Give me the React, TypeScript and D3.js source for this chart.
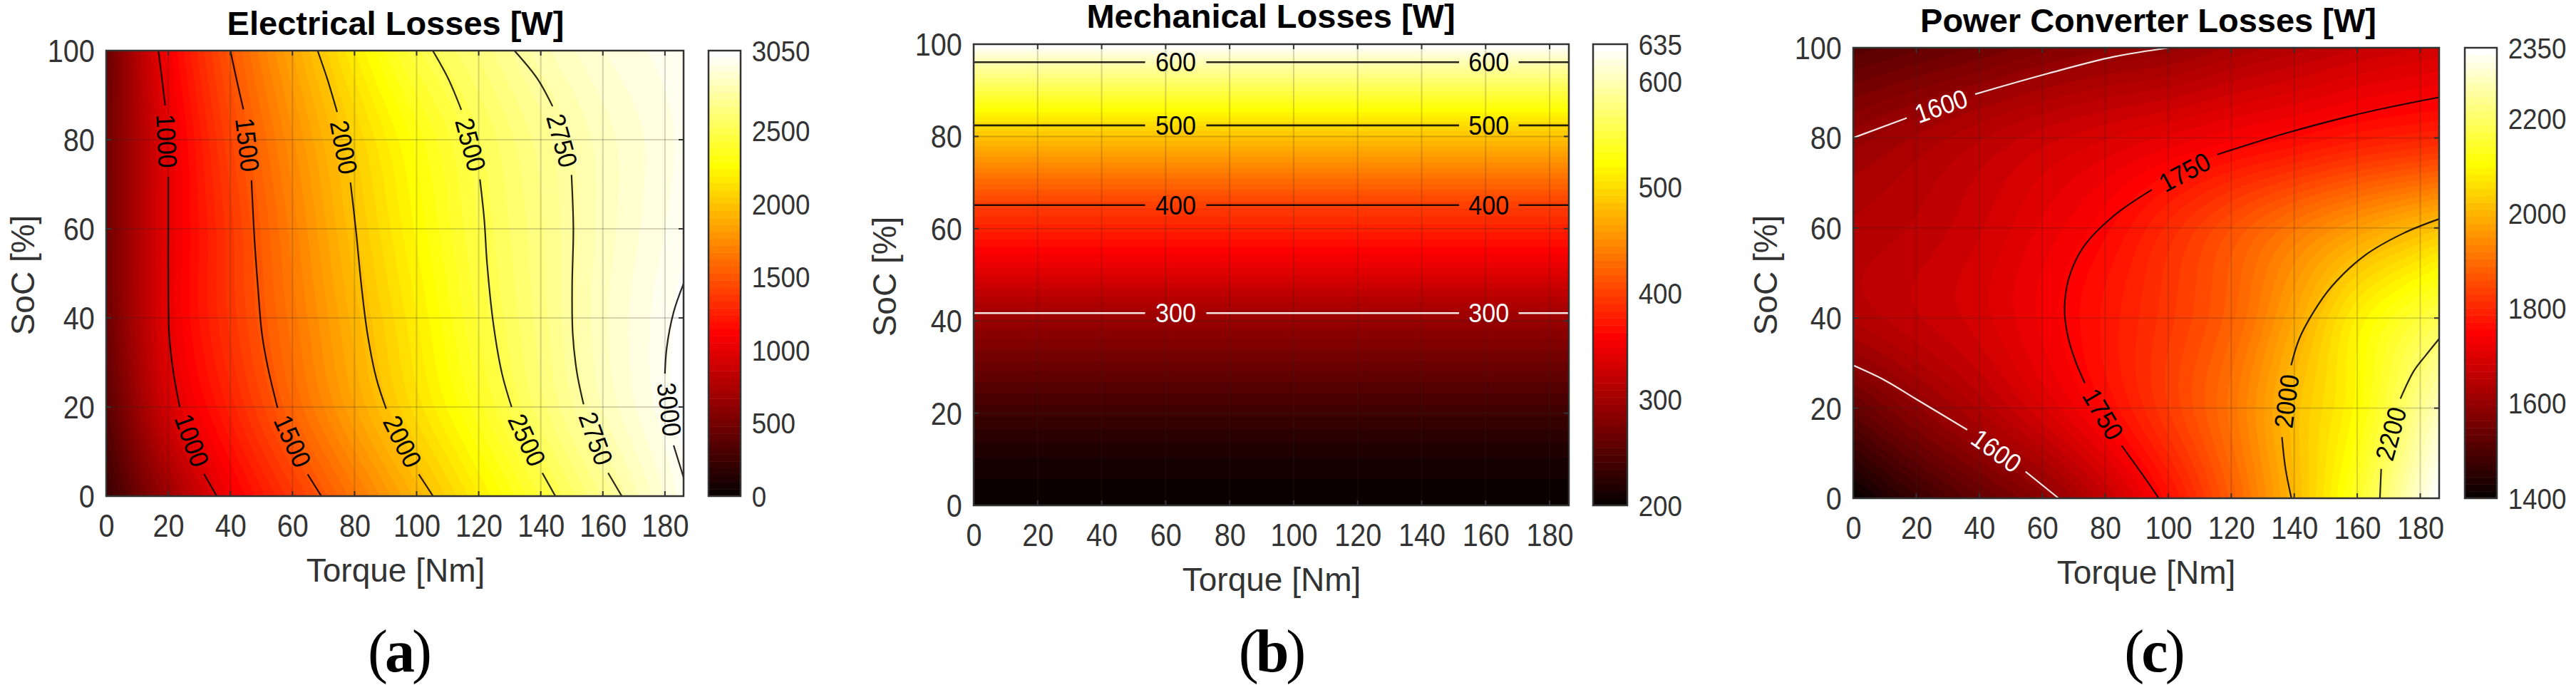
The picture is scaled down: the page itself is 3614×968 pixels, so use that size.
import React, { useEffect, useRef } from 'react';
import * as d3 from 'd3';

type Pt = [number, number];

// torque [Nm] and SoC [%] nodes of the loss maps
const torqueNodes = [0, 20, 40, 60, 80, 100, 120, 140, 160, 186];
const socNodes = [0, 20, 40, 60, 80, 100];

const elecLosses = [
  [230, 670, 1065, 1365, 1650, 1925, 2190, 2440, 2680, 2980],
  [370, 920, 1260, 1570, 1855, 2120, 2365, 2600, 2815, 3030],
  [460, 1005, 1350, 1645, 1930, 2190, 2440, 2645, 2845, 3025],
  [480, 1000, 1365, 1690, 1990, 2250, 2480, 2660, 2830, 2990],
  [475, 1005, 1420, 1755, 2055, 2310, 2520, 2690, 2835, 2970],
  [450, 1070, 1505, 1860, 2190, 2465, 2630, 2790, 2905, 2990],
];

const mechSocNodes = [0, 10, 20, 30, 41.7, 50, 60, 65.1, 70, 82.4, 90, 96.1, 100];
const mechLosses = [200, 213, 236, 264, 300, 337, 380, 400, 426, 500, 555, 600, 635];

const convLosses = [
  [1400, 1470, 1530, 1585, 1665, 1765, 1880, 2007, 2145, 2350],
  [1530, 1590, 1640, 1695, 1757, 1830, 1910, 2015, 2105, 2280],
  [1640, 1665, 1690, 1730, 1775, 1825, 1885, 1980, 2085, 2180],
  [1640, 1655, 1680, 1715, 1752, 1805, 1860, 1915, 1965, 2020],
  [1600, 1625, 1650, 1675, 1695, 1715, 1737, 1757, 1780, 1800],
  [1510, 1530, 1550, 1572, 1590, 1600, 1625, 1645, 1665, 1685],
];

// contour lines as [torque, soc] runs, broken where MATLAB put the label
const elecLevels = [1000, 1500, 2000, 2500, 2750, 3000];
const elecLines: Pt[][][] = [
  [[[16.8, 100], [17.9, 94], [19, 87.7]],
   [[20, 71.7], [20, 60], [20, 46.7], [20.3, 36.3], [21.6, 28], [23.7, 20]],
   [[31.5, 5], [35.6, 0]]],
  [[[40, 100], [42, 93.5], [44.2, 86.8]],
   [[46.8, 70.9], [47.8, 57.3], [48.9, 46.7], [50.2, 36.3], [52.2, 28.5], [55.2, 19.8]],
   [[64.9, 4.9], [69.3, 0]]],
  [[[68.1, 100], [71.2, 93.7], [74.4, 86.2]],
   [[78.7, 70.4], [80.4, 60], [82.3, 46.7], [84.2, 36.3], [87, 26.5], [90.2, 19.6]],
   [[100.7, 4.9], [105.3, 0]]],
  [[[105.2, 100], [110.2, 93.7], [114.4, 86.7]],
   [[120.4, 71.1], [121.8, 62], [122.7, 52.2], [124.8, 38.3], [127.5, 27.5], [130.6, 20]],
   [[140.5, 5.2], [144.7, 0]]],
  [[[131.5, 100], [138.9, 93.7], [143.8, 87.5]],
   [[149.9, 72.1], [150.5, 60], [150.1, 47.2], [150.3, 36.4], [151.7, 27.5], [153.8, 20.6]],
   [[161.7, 5.2], [166.1, 0]]],
  [[[186, 47.7], [182.8, 41.3], [180.6, 33.4], [180, 27.5]],
   [[182.8, 11.4], [186, 4.2]]],
];

const mechLevels = [300, 400, 500, 600];
const mechLines: Pt[][][] = [41.7, 65.1, 82.4, 96.1].map((s) => [
  [[0, s], [53.6, s]],
  [[72.7, s], [151.7, s]],
  [[170.3, s], [186, s]],
]);

const convLevels = [1600, 1600, 1750, 2000, 2200];
const convLines: Pt[][][] = [
  [[[0, 80], [17, 84.4]],
   [[38.7, 89.7], [61.9, 94.3], [82.7, 98], [100.4, 100]]],
  [[[0, 29.5], [10, 26.2], [20, 22], [36.2, 15.2]],
   [[54.7, 5.9], [65.2, 0]]],
  [[[186, 89], [162.4, 85.6], [138.2, 81.2], [115.6, 76.3]],
   [[94.8, 68.5], [82.7, 62.7], [73.1, 55.8], [68.5, 49], [67.1, 42.2], [68, 36.4], [70.5, 30.5], [73.5, 25.6]],
   [[85.2, 11.7], [92.8, 4.3], [97, 0]]],
  [[[139.1, 0], [137.2, 6.7], [136.1, 13.6]],
   [[139, 29.5], [141.6, 35.4], [146, 41.2], [152, 47.1], [162.4, 53.9], [174.6, 58.8], [186, 62]]],
  [[[167.2, 0], [167.6, 6.5]],
   [[173.7, 22.1], [178, 28.3], [181.5, 31.5], [186, 35.4]]],
];

const xTicks = d3.range(0, 181, 20);
const yTicks = d3.range(0, 101, 20);
const elecBarTicks = [0, 500, 1000, 1500, 2000, 2500, 3050];
const mechBarTicks = [200, 300, 400, 500, 600, 635];
const convBarTicks = [1400, 1600, 1800, 2000, 2200, 2350];

const TORQUE_MAX = 186;
const FONT = '"Liberation Sans", Arial, sans-serif';
const INK = '#333';

// MATLAB hot(64)
function hot64(k: number) {
  const n = 24;
  const i = k + 1;
  const r = Math.min(i / n, 1);
  const g = Math.min(Math.max((i - n) / n, 0), 1);
  const b = Math.max((i - 2 * n) / 16, 0);
  return d3.rgb(r * 255, g * 255, b * 255).formatRgb();
}

// cubic through the read nodes, only used to give the raster a smooth look
function cubicAt(xs: number[], vs: number[], x: number) {
  const last = xs.length - 1;
  let i = d3.bisectRight(xs, x) - 1;
  i = Math.max(0, Math.min(i, last - 1));
  const h = xs[i + 1] - xs[i];
  const slope = (j: number) => {
    const a = Math.max(j - 1, 0);
    const b = Math.min(j + 1, last);
    return (vs[b] - vs[a]) / (xs[b] - xs[a]);
  };
  const t = (x - xs[i]) / h;
  const m0 = slope(i) * h;
  const m1 = slope(i + 1) * h;
  return (
    (2 * t ** 3 - 3 * t ** 2 + 1) * vs[i] +
    (t ** 3 - 2 * t ** 2 + t) * m0 +
    (-2 * t ** 3 + 3 * t ** 2) * vs[i + 1] +
    (t ** 3 - t ** 2) * m1
  );
}

function rasterize(xs: number[], ys: number[], rows: number[][], w: number, h: number) {
  const out = new Array(w * h);
  for (let ix = 0; ix < w; ix++) {
    const x = (ix / (w - 1)) * TORQUE_MAX;
    const col = rows.map((r) => cubicAt(xs, r, x));
    for (let iy = 0; iy < h; iy++) {
      out[iy * w + ix] = cubicAt(ys, col, (iy / (h - 1)) * 100);
    }
  }
  return out;
}

const panels = [
  {
    id: 'elec', title: 'Electrical Losses [W]', tag: 'a',
    left: 149, right: 959, top: 71, bottom: 696,
    barLeft: 994, barRight: 1039,
    titleX: 555, titleY: 49, xLabelX: 555, yLabelX: 48, yLabelY: 386, tagX: 559,
    nodesX: torqueNodes, nodesY: socNodes, rows: elecLosses,
    domain: [0, 3050], barTicks: elecBarTicks, levels: elecLevels, lines: elecLines,
  },
  {
    id: 'mech', title: 'Mechanical Losses [W]', tag: 'b',
    left: 1366, right: 2201, top: 62, bottom: 709,
    barLeft: 2235, barRight: 2283,
    titleX: 1783, titleY: 39, xLabelX: 1784, yLabelX: 1257, yLabelY: 388, tagX: 1783,
    nodesX: [0, TORQUE_MAX], nodesY: mechSocNodes, rows: mechLosses.map((v) => [v, v]),
    domain: [200, 635], barTicks: mechBarTicks, levels: mechLevels, lines: mechLines,
  },
  {
    id: 'conv', title: 'Power Converter Losses [W]', tag: 'c',
    left: 2600, right: 3422, top: 67, bottom: 699,
    barLeft: 3458, barRight: 3503,
    titleX: 3014, titleY: 45, xLabelX: 3011, yLabelX: 2493, yLabelY: 386, tagX: 3021,
    nodesX: torqueNodes, nodesY: socNodes, rows: convLosses,
    domain: [1400, 2350], barTicks: convBarTicks, levels: convLevels, lines: convLines,
  },
];

function drawPanel(svg: any, p: (typeof panels)[number]) {
  const x = d3.scaleLinear().domain([0, TORQUE_MAX]).range([p.left, p.right]);
  const y = d3.scaleLinear().domain([0, 100]).range([p.bottom, p.top]);
  const g = svg.append('g').attr('id', p.id).attr('font-family', FONT);

  g.append('clipPath').attr('id', 'clip-' + p.id)
    .append('rect')
    .attr('x', p.left).attr('y', p.top)
    .attr('width', p.right - p.left).attr('height', p.bottom - p.top);

  // filled contours, 64 even steps over the colour range
  const [lo, hi] = p.domain;
  const step = (hi - lo) / 64;
  const w = 280;
  const h = 220;
  const field = rasterize(p.nodesX, p.nodesY, p.rows, w, h);
  const contours = d3.contours().size([w, h]).thresholds(d3.range(64).map((k) => lo + k * step));
  const project = d3.geoTransform({
    point(px: number, py: number) {
      (this as any).stream.point(
        x(((px - 0.5) / (w - 1)) * TORQUE_MAX),
        y(((py - 0.5) / (h - 1)) * 100),
      );
    },
  });
  const path = d3.geoPath(project);
  const fill = g.append('g').attr('clip-path', `url(#clip-${p.id})`);
  fill.append('rect')
    .attr('x', p.left).attr('y', p.top)
    .attr('width', p.right - p.left).attr('height', p.bottom - p.top)
    .attr('fill', hot64(0));
  fill.selectAll('path')
    .data(contours(field))
    .enter()
    .append('path')
    .attr('d', path as any)
    .attr('fill', (_: any, k: number) => hot64(k));

  // grid on top of the map
  const grid = g.append('g').attr('stroke', '#262626').attr('stroke-opacity', 0.2).attr('stroke-width', 2);
  xTicks.filter((t) => t > 0).forEach((t) => {
    grid.append('line').attr('x1', x(t)).attr('x2', x(t)).attr('y1', p.top).attr('y2', p.bottom);
  });
  yTicks.filter((t) => t > 0 && t < 100).forEach((t) => {
    grid.append('line').attr('x1', p.left).attr('x2', p.right).attr('y1', y(t)).attr('y2', y(t));
  });

  // contour lines and labels
  const line = d3.line<Pt>().x((d) => x(d[0])).y((d) => y(d[1])).curve(d3.curveCatmullRom);
  p.lines.forEach((runs, i) => {
    const level = p.levels[i];
    const white = level === 300 || level === 1600;
    const color = white ? '#fff' : '#000';
    runs.forEach((run) => {
      g.append('path').attr('d', line(run)).attr('fill', 'none')
        .attr('stroke', color).attr('stroke-width', p.id === 'mech' ? 2.6 : 2.2)
        .attr('stroke-opacity', white ? 0.9 : 0.85);
    });
    runs.slice(1).forEach((run, r) => {
      const a = runs[r][runs[r].length - 1];
      const b = run[0];
      const ax = x(a[0]), ay = y(a[1]), bx = x(b[0]), by = y(b[1]);
      let angle = (Math.atan2(by - ay, bx - ax) * 180) / Math.PI;
      if (angle > 90) angle -= 180;
      if (angle < -90) angle += 180;
      g.append('text')
        .attr('transform', `translate(${(ax + bx) / 2},${(ay + by) / 2}) rotate(${angle}) scale(0.92,1)`)
        .attr('text-anchor', 'middle').attr('y', 13)
        .attr('font-size', 37).attr('fill', color)
        .text(level);
    });
  });

  // tick marks on all four sides, inside
  const tickLen = 7;
  const ticks = g.append('g').attr('stroke', INK).attr('stroke-width', 2);
  xTicks.forEach((t) => {
    ticks.append('line').attr('x1', x(t)).attr('x2', x(t)).attr('y1', p.bottom).attr('y2', p.bottom - tickLen);
    ticks.append('line').attr('x1', x(t)).attr('x2', x(t)).attr('y1', p.top).attr('y2', p.top + tickLen);
  });
  yTicks.forEach((t) => {
    ticks.append('line').attr('x1', p.left).attr('x2', p.left + tickLen).attr('y1', y(t)).attr('y2', y(t));
    ticks.append('line').attr('x1', p.right).attr('x2', p.right - tickLen).attr('y1', y(t)).attr('y2', y(t));
  });

  g.append('rect')
    .attr('x', p.left).attr('y', p.top)
    .attr('width', p.right - p.left).attr('height', p.bottom - p.top)
    .attr('fill', 'none').attr('stroke', INK).attr('stroke-width', 2.5);

  // axes labels
  const xAxis = g.append('g').attr('transform', `translate(0,${p.bottom})`)
    .call(d3.axisBottom(x).tickValues(xTicks).tickSize(0));
  const yAxis = g.append('g').attr('transform', `translate(${p.left},0)`)
    .call(d3.axisLeft(y).tickValues(yTicks).tickSize(0));
  [xAxis, yAxis].forEach((ax: any) => ax.select('.domain').remove());
  xAxis.selectAll('text')
    .attr('y', 57).attr('dy', 0).attr('transform', 'scale(0.9,1)')
    .attr('font-size', 44).attr('font-family', FONT).attr('fill', INK);
  yAxis.selectAll('text')
    .attr('x', -18).attr('dy', '0.35em').attr('transform', 'scale(0.9,1)')
    .attr('font-size', 44).attr('font-family', FONT).attr('fill', INK);

  g.append('text').attr('x', p.xLabelX).attr('y', p.bottom + 120)
    .attr('text-anchor', 'middle').attr('font-size', 46).attr('fill', INK).text('Torque [Nm]');
  g.append('text')
    .attr('transform', `translate(${p.yLabelX},${p.yLabelY}) rotate(-90)`)
    .attr('text-anchor', 'middle').attr('font-size', 46).attr('fill', INK).text('SoC [%]');
  g.append('text').attr('x', p.titleX).attr('y', p.titleY)
    .attr('text-anchor', 'middle').attr('font-size', 47).attr('font-weight', 'bold').attr('fill', '#000')
    .text(p.title);

  // colour bar
  const bar = d3.scaleLinear().domain(p.domain).range([p.bottom, p.top]);
  g.append('g').selectAll('rect')
    .data(d3.range(64))
    .enter()
    .append('rect')
    .attr('x', p.barLeft)
    .attr('width', p.barRight - p.barLeft)
    .attr('y', (k: number) => bar(lo + (k + 1) * step))
    .attr('height', (k: number) => bar(lo + k * step) - bar(lo + (k + 1) * step) + 0.5)
    .attr('fill', (k: number) => hot64(k));
  g.append('rect')
    .attr('x', p.barLeft).attr('y', p.top)
    .attr('width', p.barRight - p.barLeft).attr('height', p.bottom - p.top)
    .attr('fill', 'none').attr('stroke', INK).attr('stroke-width', 2.5);
  p.barTicks.slice(1, -1).forEach((t) => {
    ticks.append('line').attr('x1', p.barRight).attr('x2', p.barRight - 5).attr('y1', bar(t)).attr('y2', bar(t));
  });
  const barAxis = g.append('g').attr('transform', `translate(${p.barRight},0)`)
    .call(d3.axisRight(bar).tickValues(p.barTicks).tickFormat(d3.format('d')).tickSize(0));
  barAxis.select('.domain').remove();
  barAxis.selectAll('text')
    .attr('x', 17).attr('dy', '0.35em').attr('transform', 'scale(0.92,1)')
    .attr('font-size', 40).attr('font-family', FONT).attr('fill', INK);

  // caption
  const cap = svg.append('text').attr('x', p.tagX).attr('y', 942)
    .attr('text-anchor', 'middle').attr('font-size', 84).attr('letter-spacing', -4)
    .attr('font-family', '"Liberation Serif", serif').attr('fill', '#000');
  cap.append('tspan').text('(');
  cap.append('tspan').attr('font-weight', 'bold').text(p.tag);
  cap.append('tspan').text(')');
}

export default function App() {
  const ref = useRef<SVGSVGElement>(null);

  useEffect(() => {
    const svg = d3.select(ref.current);
    svg.selectAll('*').remove();
    panels.forEach((p) => drawPanel(svg, p));
  }, []);

  return (
    <svg
      ref={ref}
      width={3614}
      height={968}
      style={{ position: 'absolute', left: 0, top: 0, background: '#fff' }}
    />
  );
}
